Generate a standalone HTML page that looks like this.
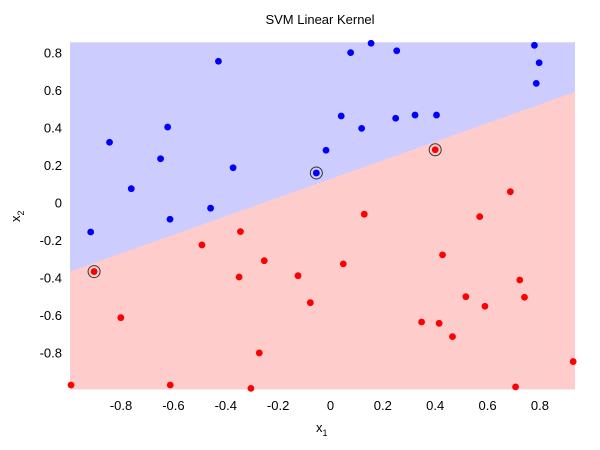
<!DOCTYPE html>
<html><head><meta charset="utf-8"><style>
html,body{margin:0;padding:0;background:#fff;}
svg{display:block;font-family:"Liberation Sans",sans-serif;}
</style></head><body>
<svg id="c" width="600" height="450"></svg>
<script>
const xTicks=[-0.8,-0.6,-0.4,-0.2,0,0.2,0.4,0.6,0.8];
const yTicks=[0.8,0.6,0.4,0.2,0,-0.2,-0.4,-0.6,-0.8];
const blueX=[0.779,0.797,0.786,0.155,0.077,0.253,-0.428,0.041,0.119,0.249,0.323,0.405,-0.017,-0.054,-0.622,-0.844,-0.649,-0.372,-0.761,-0.458,-0.613,-0.916];
const blueY=[0.841,0.748,0.638,0.852,0.802,0.812,0.756,0.464,0.398,0.452,0.469,0.469,0.281,0.160,0.405,0.324,0.236,0.188,0.076,-0.028,-0.087,-0.155];
const redX=[0.400,-0.903,0.687,0.129,0.570,-0.344,-0.491,-0.253,0.049,0.428,-0.349,-0.124,-0.077,-0.801,0.723,0.741,0.517,0.590,0.348,0.415,0.466,-0.272,0.927,-0.991,-0.612,-0.304,0.707];
const redY=[0.284,-0.366,0.060,-0.060,-0.073,-0.153,-0.224,-0.308,-0.325,-0.277,-0.395,-0.388,-0.532,-0.612,-0.411,-0.503,-0.500,-0.551,-0.635,-0.642,-0.713,-0.800,-0.846,-0.971,-0.971,-0.989,-0.981];
const svX=[-0.054,0.400,-0.903];
const svY=[0.160,0.284,-0.366];
const xDom=[-0.995,0.934], yDom=[-0.994,0.857];
const boundX=[-0.995,0.934], boundY=[-0.366,0.592];

const L=70,R=575,T=42.3,B=389.3;
const sx=v=>L+(v-xDom[0])/(xDom[1]-xDom[0])*(R-L);
const sy=v=>B-(v-yDom[0])/(yDom[1]-yDom[0])*(B-T);
const svg=document.getElementById('c');
const NS='http://www.w3.org/2000/svg';
function mk(t,a,p){const e=document.createElementNS(NS,t);for(const k in a)e.setAttribute(k,a[k]);(p||svg).appendChild(e);return e;}

let e=mk('rect',{x:L,y:T,width:R-L,height:B-T,fill:'#ccccff'});

e=mk('polygon',{points:`${sx(boundX[0])},${sy(boundY[0])} ${sx(boundX[1])},${sy(boundY[1])} ${R},${B} ${L},${B}`,fill:'#ffcccc'});


svX.forEach((x,i)=>{
  const c=mk('circle',{cx:sx(x),cy:sy(svY[i]),r:6,fill:'none',stroke:'#333','stroke-width':1});
  
});
blueX.forEach((x,i)=>{
  const c=mk('circle',{cx:sx(x),cy:sy(blueY[i]),r:3.4,fill:'#0000ff'});
  
});
redX.forEach((x,i)=>{
  const c=mk('circle',{cx:sx(x),cy:sy(redY[i]),r:3.4,fill:'#ff0000'});
  
});
xTicks.forEach(v=>{
  const t=mk('text',{x:sx(v),y:410,'text-anchor':'middle','font-size':13,fill:'#000'});
  t.textContent=(v===0?'0':String(v));
  
});
yTicks.forEach(v=>{
  const t=mk('text',{x:62,y:sy(v)+4.5,'text-anchor':'end','font-size':13,fill:'#000'});
  t.textContent=(v===0?'0':String(v));
  
});
let t=mk('text',{x:320,y:24,'text-anchor':'middle','font-size':13,fill:'#000'});
t.textContent='SVM Linear Kernel';

t=mk('text',{x:316,y:432,'font-size':13,fill:'#000'});
t.innerHTML='x<tspan font-size="9" dy="4">1</tspan>';

t=mk('text',{x:0,y:0,'font-size':13,fill:'#000',transform:'translate(20,222) rotate(-90)'});
t.innerHTML='x<tspan font-size="9" dy="4">2</tspan>';

</script>
</body></html>
